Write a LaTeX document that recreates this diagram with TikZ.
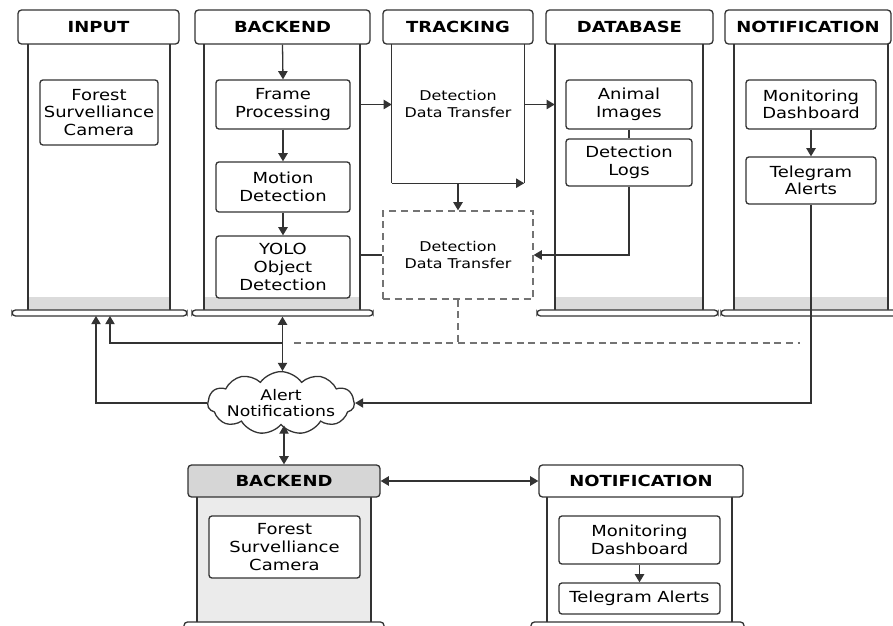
\documentclass[tikz,border=0pt]{standalone}
\usepackage{fontspec}
\setmainfont{DejaVu Sans}[FakeStretch=1.18]
\usetikzlibrary{arrows.meta,shapes.symbols,fit}

\begin{document}
\begin{tikzpicture}[
  x=0.03cm,y=-0.03cm,
  line/.style={draw=black!80,line width=1.1pt},
  arr/.style={line,-{Triangle[length=7pt,width=8pt]}},
  darr/.style={line,{Triangle[length=7pt,width=8pt]}-{Triangle[length=7pt,width=8pt]}},
  sz/.style 2 args={minimum width={(#1)*0.03cm},minimum height={(#2)*0.03cm}},
  hdr/.style={line,fill=white,rounded corners=3pt,inner sep=0pt,font=\fontsize{13}{15}\selectfont\bfseries},
  box/.style={line,fill=white,rounded corners=2.5pt,inner sep=0pt,align=center,font=\fontsize{13}{15}\selectfont},
  body/.style={inner sep=0pt},
  foot/.style={line,fill=white,rounded corners=3pt,inner sep=0pt},
  band/.style={fill=black!14},
  dline/.style={draw=black!55,line width=1.1pt,dash pattern=on 6pt off 4pt},
]
\fill[white] (0,0) rectangle (893,626);
\useasboundingbox (0,0) rectangle (893,626);

\foreach \nm/\lab/\ha/\hb/\ba/\bb/\fa/\fb in {
  in/INPUT/18/179/28/170/12/187,
  be/BACKEND/195/370/204/360/192/373,
  db/DATABASE/546/713/555/703/537/718,
  nt/NOTIFICATION/725/891/734/888/721/905}{
  \node[body,fit={(\ba,44) (\bb,310)}] (\nm_bd) {};
  \fill[band] (\ba,297) rectangle (\bb,310);
  \draw[line] (\ba,44) -- (\ba,310) (\bb,44) -- (\bb,310);
  \node[foot,fit={(\fa,310) (\fb,316)}] (\nm_ft) {};
  \node[hdr,sz={\hb-\ha}{34}] (\nm_hd) at ({(\ha+\hb)/2},27) {\lab};
}

\node[body,fit={(392,44) (524,183)}] (tr_bd) {};
\draw[line] (tr_bd.north west) -- (tr_bd.south west) (tr_bd.north east) -- (tr_bd.south east);
\draw[arr] (tr_bd.south west) -- (tr_bd.south east);
\node[hdr,sz={150}{34}] (tr_hd) at (458,27) {TRACKING};
\node[align=center,font=\fontsize{11.5}{15}\selectfont] (trk) at (458,104) {Detection\\Data Transfer};

\node[box,sz={118}{65}] (cam) at (99,112.5) {Forest\\Survelliance\\Camera};
\node[box,sz={134}{49}] (frame) at (283,104.5) {Frame\\Processing};
\node[box,sz={134}{50}] (motion) at (283,187) {Motion\\Detection};
\node[box,sz={134}{62}] (yolo) at (283,267) {YOLO\\Object\\Detection};
\node[box,dline,rounded corners=0pt,sz={150}{88},font=\fontsize{11.5}{15}\selectfont] (dtx) at (458,255) {Detection\\Data Transfer};
\node[box,sz={126}{49}] (animal) at (629,104.5) {Animal\\Images};
\node[box,sz={126}{47}] (logs) at (629,162.5) {Detection\\Logs};
\node[box,sz={130}{49}] (dash) at (811,104.5) {Monitoring\\Dashboard};
\node[box,sz={130}{47}] (tgram) at (811,180.5) {Telegram\\Alerts};

\draw[arr] (be_hd.south) -- (frame.north);
\draw[arr] (frame) -- (motion);
\draw[arr] (motion) -- (yolo);
\draw[arr] (be_bd.east |- frame.east) -- (tr_bd.west |- frame.east);
\draw[arr] (tr_bd.east |- frame.east) -- (db_bd.west |- frame.east);
\draw[line] (animal) -- (logs);
\draw[arr] (logs.south) |- (dtx.east);
\draw[line] (be_bd.east |- dtx.west) -- (dtx.west);
\draw[arr] (tr_bd.south) -- (dtx.north);
\draw[arr] (dash) -- (tgram);

\node[cloud,line,fill=white,cloud puffs=11,cloud puff arc=110,aspect=3.4,inner sep=-2pt,
  align=center,font=\fontsize{12.5}{14}\selectfont] (alert) at (281,403) {Alert\\Notifications};

\coordinate (inA) at (96,316);
\coordinate (inB) at (110,316);
\coordinate (dA) at (294,343);
\coordinate (dB) at (800,343);
\draw[arr] (be_ft.south |- dA) -| (inB);
\draw[darr] (be_ft.south) -- (be_ft.south |- alert.north);
\draw[arr] (alert.west) -| (inA);
\draw[arr] (tgram.south) |- (alert.east);
\draw[dline] (dtx.south) -- (dtx.south |- dA);
\draw[dline] (dA) -- (dB);

% lower pair
\fill[black!8] (197,497) rectangle (371,630);
\draw[line] (197,497) -- (197,630) (371,497) -- (371,630);
\node[foot,fit={(184,622) (384,630)}] (be2_ft) {};
\node[hdr,fill=black!16,sz={192}{32}] (be2_hd) at (284,481) {BACKEND};
\node[box,sz={151}{62}] (cam2) at (284.5,547) {Forest\\Survelliance\\Camera};

\draw[line] (547,497) -- (547,630) (732,497) -- (732,630);
\node[foot,fit={(531,622) (744,630)}] (nt2_ft) {};
\node[hdr,sz={204}{32}] (nt2_hd) at (641,481) {NOTIFICATION};
\node[box,sz={161}{48}] (dash2) at (639.5,540) {Monitoring\\Dashboard};
\node[box,sz={161}{31}] (tgram2) at (639.5,598.5) {Telegram Alerts};

\draw[darr] (be2_hd.north) -- (be2_hd.north |- alert.south);
\draw[darr] (be2_hd.east) -- (nt2_hd.west);
\draw[arr] (dash2) -- (tgram2);
\end{tikzpicture}
\end{document}
